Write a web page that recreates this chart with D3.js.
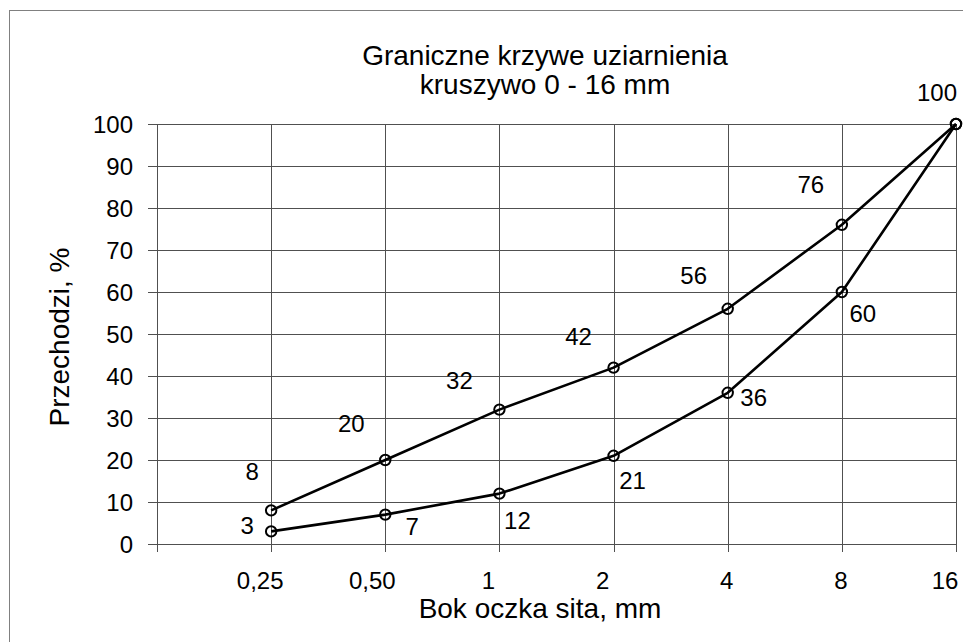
<!DOCTYPE html>
<html>
<head>
<meta charset="utf-8">
<script src="https://cdn.jsdelivr.net/npm/d3@7"></script>
<style>
  body { margin: 0; background: #fff; }
  svg { display: block; font-family: "Liberation Sans", Arial, sans-serif; }
</style>
</head>
<body>
<div id="container"></div>
<script>
// Sieve sizes (first slot of the axis is left empty, as in the original sheet)
var sieves = ['0,25', '0,50', '1', '2', '4', '8', '16']
// Upper and lower grading limits, % passing
var upperLimit = [8, 20, 32, 42, 56, 76, 100]
var lowerLimit = [3, 7, 12, 21, 36, 60, 100]
var yTicks = [0, 10, 20, 30, 40, 50, 60, 70, 80, 90, 100]

// manual label placement (dx, dy from point), like the hand-moved labels of the source
var upperLabelShift = [[-19, -39], [-34, -37], [-40, -29], [-35, -31], [-34, -33], [-31, -40], [-19, -32]]
var lowerLabelShift = [[-24, -6], [27, 12], [18, 27], [19, 25], [26, 5], [21, 21], null]
var sieveLabelShift = [-11, -13, -11, -11, -1, -1, -11]

var width = 963, height = 642
var plot = {left: 157, right: 956, top: 124, bottom: 544}
var gridColor = '#505050'

var svg = d3.select('#container').append('svg')
  .attr('width', width)
  .attr('height', height)

// outer frame (runs off the right and bottom edge of the picture)
svg.append('rect')
  .attr('x', 9.5).attr('y', 10.5)
  .attr('width', 970).attr('height', 650)
  .attr('fill', 'none').attr('stroke', '#808080').attr('stroke-width', 1)

var x = d3.scaleLinear().domain([0, sieves.length]).range([plot.left, plot.right])
var y = d3.scaleLinear().domain([0, 100]).range([plot.bottom, plot.top])

var crisp = function(v) { return Math.round(v) + 0.5 }

// horizontal grid + y ticks
svg.append('g').selectAll('line').data(yTicks).join('line')
  .attr('x1', plot.left - 9).attr('x2', plot.right)
  .attr('y1', function(d) { return crisp(y(d)) })
  .attr('y2', function(d) { return crisp(y(d)) })
  .attr('stroke', gridColor).attr('stroke-width', 1)

// vertical grid + x ticks
svg.append('g').selectAll('line').data(d3.range(0, sieves.length + 1)).join('line')
  .attr('x1', function(i) { return crisp(x(i)) })
  .attr('x2', function(i) { return crisp(x(i)) })
  .attr('y1', plot.top).attr('y2', plot.bottom + 8)
  .attr('stroke', gridColor).attr('stroke-width', 1)

// y tick labels
svg.append('g').selectAll('text').data(yTicks).join('text')
  .attr('x', 133)
  .attr('y', function(d) { return y(d) })
  .attr('dy', '0.36em')
  .attr('text-anchor', 'end')
  .attr('font-size', 24)
  .text(function(d) { return d })

// x tick labels
svg.append('g').selectAll('text').data(sieves).join('text')
  .attr('x', function(d, i) { return x(i + 1) + sieveLabelShift[i] })
  .attr('y', 589)
  .attr('text-anchor', 'middle')
  .attr('font-size', 24)
  .text(function(d) { return d })

// titles
var title = svg.append('text')
  .attr('text-anchor', 'middle')
  .attr('font-size', 28)
title.append('tspan').attr('x', 545).attr('y', 65).text('Graniczne krzywe uziarnienia')
title.append('tspan').attr('x', 545).attr('y', 94).text('kruszywo 0 - 16 mm')

svg.append('text')
  .attr('x', 540).attr('y', 618)
  .attr('text-anchor', 'middle')
  .attr('font-size', 28)
  .text('Bok oczka sita, mm')

svg.append('text')
  .attr('transform', 'translate(69,337) rotate(-90)')
  .attr('text-anchor', 'middle')
  .attr('font-size', 28)
  .text('Przechodzi, %')

// curves
var line = d3.line()
  .x(function(d, i) { return x(i + 1) })
  .y(function(d) { return y(d) })

var series = [
  {values: upperLimit, shift: upperLabelShift},
  {values: lowerLimit, shift: lowerLabelShift}
]

series.map(function(s) {
  var g = svg.append('g')
  g.append('path')
    .attr('d', line(s.values))
    .attr('fill', 'none')
    .attr('stroke', '#000')
    .attr('stroke-width', 2.6)
    .attr('stroke-linejoin', 'round')
  g.selectAll('circle').data(s.values).join('circle')
    .attr('cx', function(d, i) { return x(i + 1) })
    .attr('cy', function(d) { return y(d) })
    .attr('r', 5.2)
    .attr('fill', 'none')
    .attr('stroke', '#000')
    .attr('stroke-width', 2)
  g.selectAll('text').data(s.values).join('text')
    .filter(function(d, i) { return s.shift[i] != null })
    .attr('x', function(d, i) { return x(i + 1) + s.shift[i][0] })
    .attr('y', function(d, i) { return y(d) + s.shift[i][1] })
    .attr('dy', '0.36em')
    .attr('text-anchor', 'middle')
    .attr('font-size', 24)
    .text(function(d) { return d })
})
</script>
</body>
</html>
